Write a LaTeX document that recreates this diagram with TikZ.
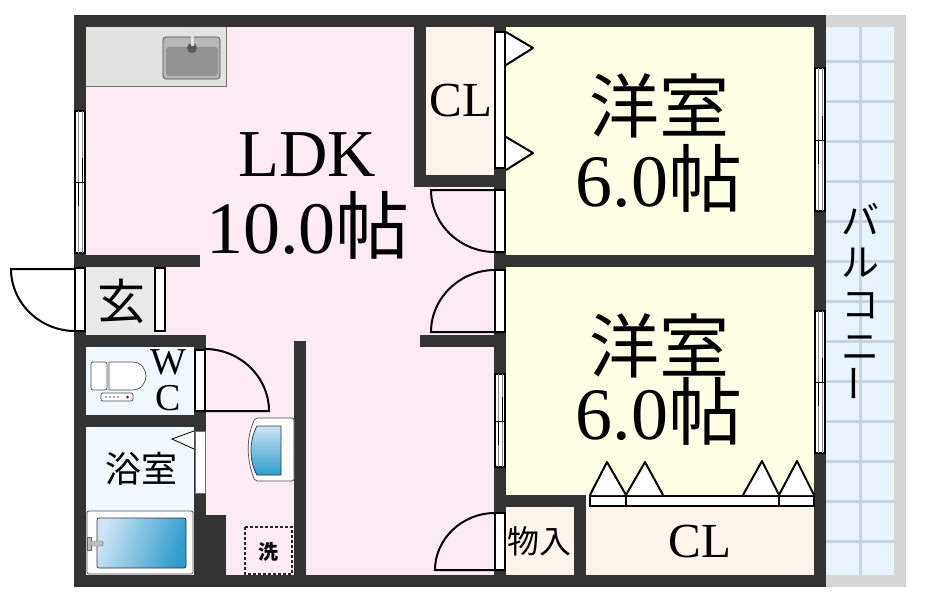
\documentclass[tikz,border=0pt]{standalone}
\usepackage{fontspec}
\setmainfont{Liberation Serif}
\newfontfamily\jpfont{Noto Sans CJK JP}
\usetikzlibrary{positioning}
\definecolor{muro}{HTML}{333333}
\definecolor{rosa}{HTML}{FDEBF3}
\definecolor{crema}{HTML}{FFFFE6}
\definecolor{armario}{HTML}{FFF4EC}
\definecolor{bano}{HTML}{F0F7FD}
\definecolor{entrada}{HTML}{E9E9E9}
\definecolor{cocina}{HTML}{E1E3DF}
\definecolor{balcon}{HTML}{E8F4FD}
\definecolor{baranda}{HTML}{D6D6D6}
\definecolor{rejilla}{HTML}{C9D3DC}
\definecolor{aguaclara}{HTML}{CBE4F6}
\definecolor{aguaosc}{HTML}{2F9CCB}
\tikzset{
    wall/.style={fill=muro},
    doorframe/.style={draw=black, fill=white, line width=2pt},
    slideframe/.style={draw=black, fill=white, line width=1.2pt},
    doorswing/.style={draw=black, line width=2pt},
    slidemark/.style={draw=black, fill=white, line width=2pt, line join=round},
    fixture/.style={draw=black!70, fill=white, line width=0.7pt, rounded corners=2pt},
    bigtxt/.style={inner sep=0pt, font=\fontsize{74}{74}\selectfont},
    midtxt/.style={inner sep=0pt, font=\fontsize{49}{49}\selectfont},
    lowtxt/.style={inner sep=0pt, font=\fontsize{36}{36}\selectfont\jpfont},
}
\begin{document}
\begin{tikzpicture}[x=1pt, y=-1pt]
    \useasboundingbox (0,0) rectangle (930,600);

    % balcony
    \fill[baranda] (826,15) rectangle (906,587);
    \fill[balcon] (826,27) rectangle (894,575);
    \draw[rejilla, line width=3pt] (860,27) -- (860,575);
    \foreach \yy in {61,101,...,541}
        \draw[rejilla, line width=3pt] (826,\yy) -- (894,\yy);

    % rooms
    \fill[rosa] (86,27) rectangle (496,575);
    \fill[crema] (506,27) rectangle (814,255);
    \fill[crema] (506,267) rectangle (814,495);
    \fill[armario] (426,27) rectangle (494,175);
    \fill[armario] (506,507) rectangle (574,575);
    \fill[armario] (586,507) rectangle (814,575);
    \fill[entrada] (86,267) rectangle (154,335);
    \fill[bano] (86,347) rectangle (194,415);
    \fill[bano] (86,427) rectangle (194,575);

    % walls
    \fill[wall] (74,15) rectangle (826,27);
    \fill[wall] (74,575) rectangle (826,587);
    \fill[wall] (74,15) rectangle (86,587);
    \fill[wall] (814,15) rectangle (826,587);
    \fill[wall] (494,27) rectangle (506,575);
    \fill[wall] (414,27) rectangle (426,187);
    \fill[wall] (414,175) rectangle (506,187);
    \fill[wall] (506,255) rectangle (814,267);
    \fill[wall] (420,335) rectangle (506,347);
    \fill[wall] (506,495) rectangle (586,507);
    \fill[wall] (574,495) rectangle (586,575);
    \fill[wall] (74,255) rectangle (200,267);
    \fill[wall] (74,335) rectangle (206,347);
    \fill[wall] (74,415) rectangle (206,427);
    \fill[wall] (194,335) rectangle (206,575);
    \fill[wall] (194,515) rectangle (226,575);
    \fill[wall] (294,341) rectangle (306,575);

    % windows
    \foreach \xa/\ya/\yb/\ym in {75/111/253/182, 815/68/211/140, 815/311/453/382, 495/374/467/421}{
        \draw[slideframe] (\xa,\ya) rectangle (\xa+10,\yb);
        \draw[black!45, line width=0.6pt] (\xa+3,\ya) -- (\xa+3,\yb);
        \draw[black!45, line width=0.6pt] (\xa+7,\ya) -- (\xa+7,\yb);
        \draw[black, line width=0.9pt] (\xa,\ym) -- (\xa+10,\ym);
        \draw[black, line width=0.7pt] (\xa+7,\ym-24) -- (\xa+7,\ym);
        \draw[black, line width=0.7pt] (\xa+3,\ym) -- (\xa+3,\ym+24);
    }

    % doors
    \foreach \xa/\ya/\yb in {75/268/331, 155/268/331, 195/350/411, 495/190/252, 495/270/332, 495/513/570}
        \draw[doorframe] (\xa,\ya) rectangle (\xa+10,\yb);
    \draw[doorswing] (75,269) -- (11,269) .. controls (11,303) and (40,331) .. (75,331);
    \draw[doorswing] (205,411) -- (269,411) .. controls (269,377) and (240,349) .. (205,349);
    \draw[doorswing] (495,190) -- (431,190) .. controls (431,224) and (460,252) .. (495,252);
    \draw[doorswing] (495,332) -- (431,332) .. controls (431,298) and (460,270) .. (495,270);
    \draw[doorswing] (495,570) -- (435,570) .. controls (435,539) and (462,513) .. (495,513);

    % sliding doors
    \draw[slideframe] (495,32) rectangle (505,168);
    \draw[draw=black!55, fill=white, line width=0.7pt] (195,431) rectangle (205,493);
    \draw[slideframe] (590,496) rectangle (626,506);
    \draw[slideframe] (626,496) rectangle (779,506);
    \draw[slideframe] (779,496) rectangle (814,506);
    \draw[slidemark] (506,32) -- (533,48) -- (506,65);
    \draw[slidemark] (506,137) -- (533,153) -- (506,170);
    \draw[slidemark] (590,495) -- (607,462) -- (626,495);
    \draw[slidemark] (626,495) -- (645,462) -- (663,495);
    \draw[slidemark] (743,495) -- (762,461) -- (779,495);
    \draw[slidemark] (779,495) -- (797,461) -- (814,495);
    \draw[black, fill=white, line width=0.8pt] (194,431) -- (172,439) -- (194,449);

    % kitchen
    \fill[cocina] (86,27) rectangle (226,86);
    \draw[black!55, line width=0.6pt] (226,27) -- (226,86) -- (86,86);
    \draw[black!70, fill=black!28, line width=0.7pt, rounded corners=3pt] (163,37) rectangle (220,79);
    \fill[black!42, rounded corners=3pt] (166,47) rectangle (218,76);
    \fill[black!65] (192,48) circle (5);
    \fill[black!12] (190.5,31) rectangle (193.5,46);

    % toilet
    \draw[fixture, fill=white] (91,362) rectangle (107,390);
    \draw[black!70, fill=white, line width=0.7pt] (109,362) -- (132,362) .. controls (141,362) and (146,369) .. (146,376) .. controls (146,383) and (141,390) .. (132,390) -- (109,390) -- cycle;
    \draw[fixture] (101,393) rectangle (133,401);
    \foreach \xx in {106,110,...,118}
        \fill[black!45] (\xx,397) circle (1.1);
    \fill[red!70!black] (127.5,397) circle (1.5);

    % bath
    \draw[fixture, fill=white] (87,511) rectangle (193,574);
    \draw[black!80, left color=aguaclara, right color=aguaosc, shading angle=70, line width=0.7pt, rounded corners=2pt] (97,518) rectangle (186,568);
    \draw[black!60, fill=black!25, line width=0.4pt] (87,537) rectangle (91,550);
    \draw[black!60, fill=black!25, line width=0.4pt] (91,541) -- (101,541) .. controls (104,541) and (104,546) .. (101,546) -- (91,546) -- cycle;

    % wash basin
    \draw[fixture] (294,418) -- (255,418) .. controls (250,430) and (243,450) .. (255,481) -- (294,481) -- cycle;
    \draw[black!80, top color=aguaclara, bottom color=aguaosc, line width=0.7pt] (281,426) -- (257,426) .. controls (249,440) and (249,462) .. (257,475) -- (281,475) -- cycle;

    % washing machine
    \draw[black!85, dashed, dash pattern=on 3pt off 2pt, line width=1.3pt] (245,527) rectangle (292,574);

    % labels
    \node[bigtxt, font=\fontsize{67}{67}\selectfont] (ldk) at (307,155) {LDK};
    \node[bigtxt] (ldkmat) at (308,225) {10.0{\jpfont 帖}};
    \node[bigtxt, font=\fontsize{70}{70}\selectfont\jpfont] (yoa) at (659,106) {洋室};
    \node[bigtxt] (yoamat) at (659,178) {6.0{\jpfont 帖}};
    \node[bigtxt, font=\fontsize{70}{70}\selectfont\jpfont] (yob) at (659,346) {洋室};
    \node[bigtxt] (yobmat) at (659,411) {6.0{\jpfont 帖}};
    \node[midtxt] (cla) at (461,101) {CL};
    \node[midtxt] (clb) at (700,542) {CL};
    \node[lowtxt, font=\fontsize{48}{48}\selectfont\jpfont] (gen) at (121,301) {玄};
    \node[lowtxt, font=\fontsize{38}{38}\selectfont] (wcw) at (168,362) {W};
    \node[lowtxt, font=\fontsize{38}{38}\selectfont] (wcc) at (168,398) {C};
    \node[lowtxt] (yoku) at (141,469) {浴室};
    \node[lowtxt, font=\fontsize{32}{32}\selectfont\jpfont] (mono) at (539,541) {物入};
    \node[lowtxt, font=\fontsize{20}{20}\selectfont\jpfont\bfseries] (sen) at (268,552) {洗};
    \node[lowtxt, font=\fontsize{38}{42}\selectfont\jpfont, align=center] (bal) at (860,303) {バ\\ル\\コ\\ニ\\\rotatebox{90}{ー}};
\end{tikzpicture}
\end{document}
